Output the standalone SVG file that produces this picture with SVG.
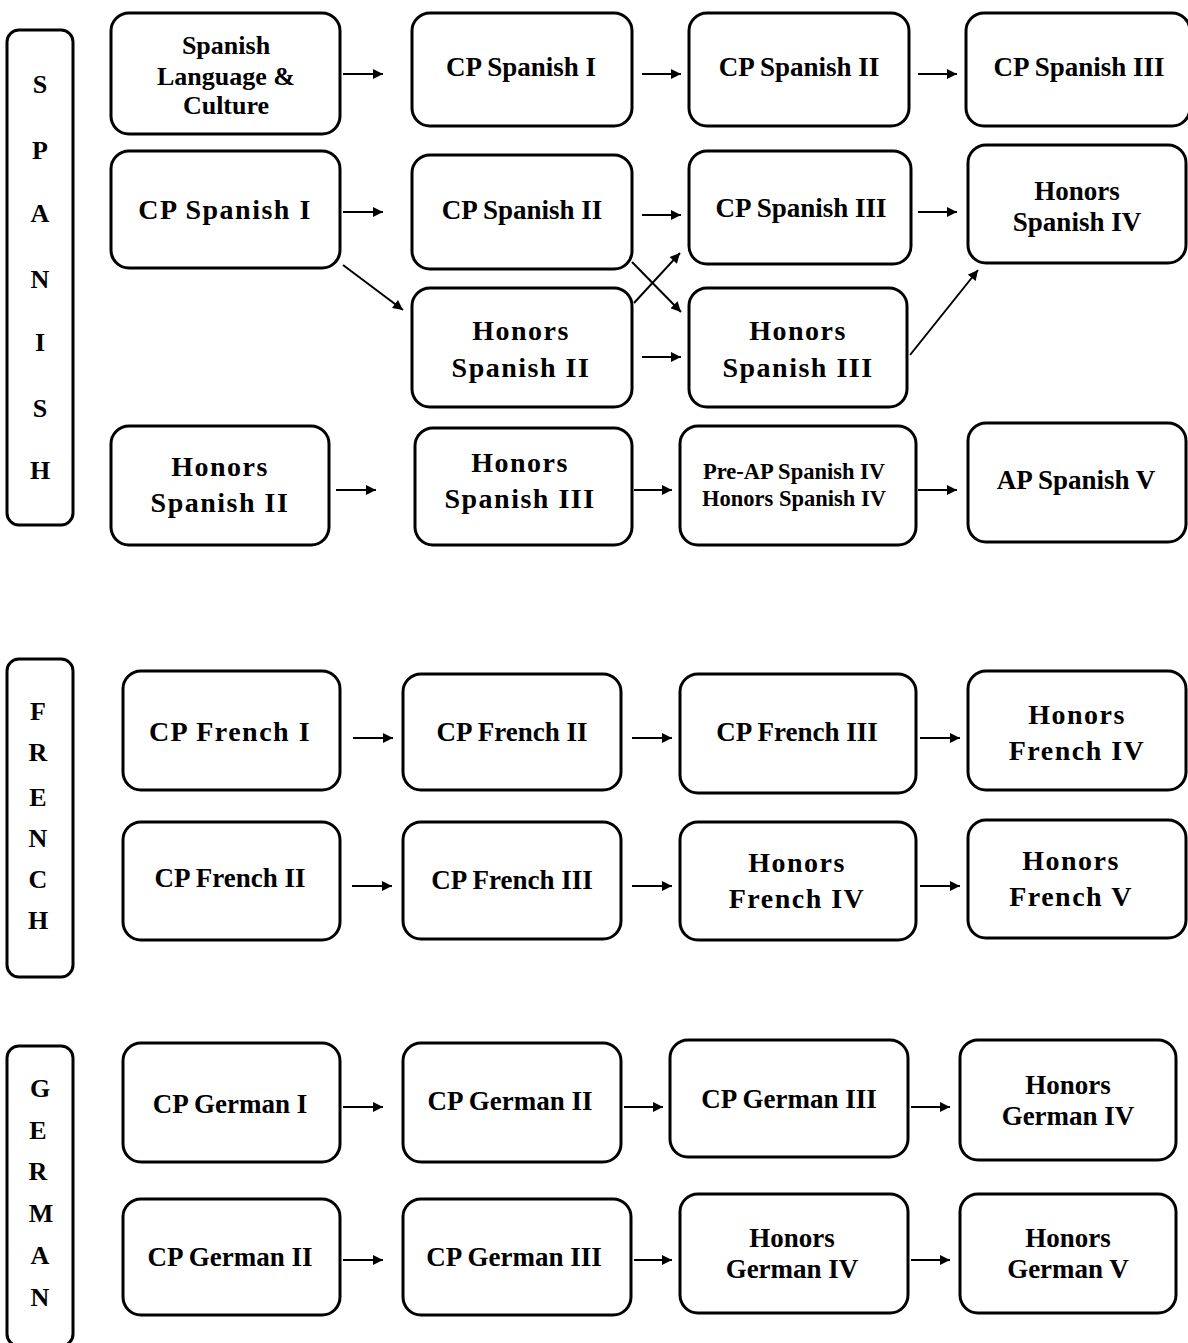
<svg xmlns="http://www.w3.org/2000/svg" width="1188" height="1343" viewBox="0 0 1188 1343">
<style>
.b{fill:#fff;stroke:#000;stroke-width:3}
text{font-family:"Liberation Serif","Times New Roman",serif;font-weight:bold;fill:#000;text-anchor:middle}
.s{font-size:27px}
.m{font-size:26px}
.l{font-size:28px;letter-spacing:1.5px}
.x{font-size:22.5px}
.lab{font-size:26px}
.c line{stroke:#000;stroke-width:2;marker-end:url(#ah)}
</style>
<defs>
<marker id="ah" viewBox="0 0 10 10" refX="10" refY="5" markerWidth="5.5" markerHeight="5" orient="auto" markerUnits="strokeWidth">
<path d="M0,0 L10,5 L0,10 z" fill="#000"/>
</marker>
</defs>

<g id="label-spanish">
<rect class="b" x="7" y="30" width="66" height="495" rx="12"/>
<text class="lab" x="40" y="93">S</text>
<text class="lab" x="40" y="159">P</text>
<text class="lab" x="40" y="222">A</text>
<text class="lab" x="40" y="288">N</text>
<text class="lab" x="40" y="351">I</text>
<text class="lab" x="40" y="417">S</text>
<text class="lab" x="40" y="479">H</text>
</g>

<g id="sp-lang-culture"><rect class="b" x="111" y="13" width="229" height="121" rx="18"/>
<text class="m" x="226" y="54">Spanish</text><text class="m" x="226" y="85">Language &amp;</text><text class="m" x="226" y="114">Culture</text></g>
<g id="sp-r1-cp1"><rect class="b" x="412" y="13" width="220" height="113" rx="18"/><text class="s" x="521" y="76">CP Spanish I</text></g>
<g id="sp-r1-cp2"><rect class="b" x="689" y="13" width="220" height="113" rx="18"/><text class="s" x="799" y="76">CP Spanish II</text></g>
<g id="sp-r1-cp3"><rect class="b" x="966" y="13" width="224" height="113" rx="18"/><text class="s" x="1079" y="76">CP Spanish III</text></g>

<g id="sp-r2-cp1"><rect class="b" x="111" y="151" width="229" height="117" rx="18"/><text class="l" x="225" y="219">CP Spanish I</text></g>
<g id="sp-r2-cp2"><rect class="b" x="412" y="155" width="220" height="114" rx="18"/><text class="s" x="522" y="219">CP Spanish II</text></g>
<g id="sp-r2-cp3"><rect class="b" x="689" y="151" width="222" height="113" rx="18"/><text class="s" x="801" y="217">CP Spanish III</text></g>
<g id="sp-r2-h4"><rect class="b" x="968" y="145" width="218" height="118" rx="18"/><text class="s" x="1077" y="200">Honors</text><text class="s" x="1077" y="231">Spanish IV</text></g>

<g id="sp-r3-h2"><rect class="b" x="412" y="288" width="220" height="119" rx="18"/><text class="l" x="521" y="340">Honors</text><text class="l" x="521" y="377">Spanish II</text></g>
<g id="sp-r3-h3"><rect class="b" x="689" y="288" width="218" height="119" rx="18"/><text class="l" x="798" y="340">Honors</text><text class="l" x="798" y="377">Spanish III</text></g>

<g id="sp-r4-h2"><rect class="b" x="111" y="426" width="218" height="119" rx="18"/><text class="l" x="220" y="476">Honors</text><text class="l" x="220" y="512">Spanish II</text></g>
<g id="sp-r4-h3"><rect class="b" x="415" y="428" width="217" height="117" rx="18"/><text class="l" x="520" y="472">Honors</text><text class="l" x="520" y="508">Spanish III</text></g>
<g id="sp-r4-preap"><rect class="b" x="680" y="426" width="236" height="119" rx="18"/><text class="x" x="794" y="479">Pre-AP  Spanish IV</text><text class="x" x="794" y="506">Honors Spanish IV</text></g>
<g id="sp-r4-ap5"><rect class="b" x="968" y="423" width="218" height="119" rx="18"/><text class="s" x="1076" y="489">AP Spanish V</text></g>

<g id="label-french">
<rect class="b" x="7" y="659" width="66" height="318" rx="12"/>
<text class="lab" x="38" y="720">F</text>
<text class="lab" x="38" y="761">R</text>
<text class="lab" x="38" y="806">E</text>
<text class="lab" x="38" y="847">N</text>
<text class="lab" x="38" y="888">C</text>
<text class="lab" x="38" y="929">H</text>
</g>

<g id="fr-r1-cp1"><rect class="b" x="123" y="671" width="217" height="119" rx="18"/><text class="l" x="230" y="741">CP French I</text></g>
<g id="fr-r1-cp2"><rect class="b" x="403" y="674" width="218" height="116" rx="18"/><text class="s" x="512" y="741">CP French II</text></g>
<g id="fr-r1-cp3"><rect class="b" x="680" y="674" width="236" height="119" rx="18"/><text class="s" x="797" y="741">CP French III</text></g>
<g id="fr-r1-h4"><rect class="b" x="968" y="671" width="218" height="119" rx="18"/><text class="l" x="1077" y="724">Honors</text><text class="l" x="1077" y="760">French IV</text></g>

<g id="fr-r2-cp2"><rect class="b" x="123" y="822" width="217" height="118" rx="18"/><text class="s" x="230" y="887">CP French II</text></g>
<g id="fr-r2-cp3"><rect class="b" x="403" y="822" width="218" height="117" rx="18"/><text class="s" x="512" y="889">CP French III</text></g>
<g id="fr-r2-h4"><rect class="b" x="680" y="822" width="236" height="118" rx="18"/><text class="l" x="797" y="872">Honors</text><text class="l" x="797" y="908">French IV</text></g>
<g id="fr-r2-h5"><rect class="b" x="968" y="820" width="218" height="118" rx="18"/><text class="l" x="1071" y="870">Honors</text><text class="l" x="1071" y="906">French V</text></g>

<g id="label-german">
<rect class="b" x="7" y="1046" width="66" height="300" rx="12"/>
<text class="lab" x="40" y="1097">G</text>
<text class="lab" x="38" y="1139">E</text>
<text class="lab" x="38" y="1180">R</text>
<text class="lab" x="41" y="1222">M</text>
<text class="lab" x="40" y="1264">A</text>
<text class="lab" x="40" y="1306">N</text>
</g>

<g id="de-r1-cp1"><rect class="b" x="123" y="1043" width="217" height="119" rx="18"/><text class="s" x="230" y="1113">CP German I</text></g>
<g id="de-r1-cp2"><rect class="b" x="403" y="1043" width="218" height="119" rx="18"/><text class="s" x="510" y="1110">CP German II</text></g>
<g id="de-r1-cp3"><rect class="b" x="670" y="1040" width="238" height="117" rx="18"/><text class="s" x="789" y="1108">CP German III</text></g>
<g id="de-r1-h4"><rect class="b" x="960" y="1040" width="216" height="120" rx="18"/><text class="s" x="1068" y="1094">Honors</text><text class="s" x="1068" y="1125">German IV</text></g>

<g id="de-r2-cp2"><rect class="b" x="123" y="1199" width="217" height="116" rx="18"/><text class="s" x="230" y="1266">CP German II</text></g>
<g id="de-r2-cp3"><rect class="b" x="403" y="1199" width="228" height="116" rx="18"/><text class="s" x="514" y="1266">CP German III</text></g>
<g id="de-r2-h4"><rect class="b" x="680" y="1194" width="228" height="119" rx="18"/><text class="s" x="792" y="1247">Honors</text><text class="s" x="792" y="1278">German IV</text></g>
<g id="de-r2-h5"><rect class="b" x="960" y="1194" width="216" height="119" rx="18"/><text class="s" x="1068" y="1247">Honors</text><text class="s" x="1068" y="1278">German V</text></g>

<g id="connectors" class="c">
<line x1="343" y1="74" x2="383" y2="74"/>
<line x1="642" y1="74" x2="681" y2="74"/>
<line x1="918" y1="74" x2="957" y2="74"/>
<line x1="343" y1="212" x2="383" y2="212"/>
<line x1="642" y1="215" x2="681" y2="215"/>
<line x1="918" y1="212" x2="957" y2="212"/>
<line x1="343" y1="265" x2="403" y2="310"/>
<line x1="632" y1="262" x2="681" y2="312"/>
<line x1="634" y1="303" x2="680" y2="253"/>
<line x1="642" y1="357" x2="681" y2="357"/>
<line x1="910" y1="355" x2="978" y2="270"/>
<line x1="336" y1="490" x2="376" y2="490"/>
<line x1="634" y1="490" x2="672" y2="490"/>
<line x1="918" y1="490" x2="957" y2="490"/>
<line x1="353" y1="738" x2="393" y2="738"/>
<line x1="632" y1="738" x2="672" y2="738"/>
<line x1="920" y1="738" x2="960" y2="738"/>
<line x1="352" y1="886" x2="392" y2="886"/>
<line x1="632" y1="886" x2="672" y2="886"/>
<line x1="920" y1="886" x2="960" y2="886"/>
<line x1="343" y1="1107" x2="383" y2="1107"/>
<line x1="624" y1="1107" x2="663" y2="1107"/>
<line x1="911" y1="1107" x2="950" y2="1107"/>
<line x1="343" y1="1260" x2="383" y2="1260"/>
<line x1="634" y1="1260" x2="672" y2="1260"/>
<line x1="911" y1="1260" x2="950" y2="1260"/>
</g>
</svg>
